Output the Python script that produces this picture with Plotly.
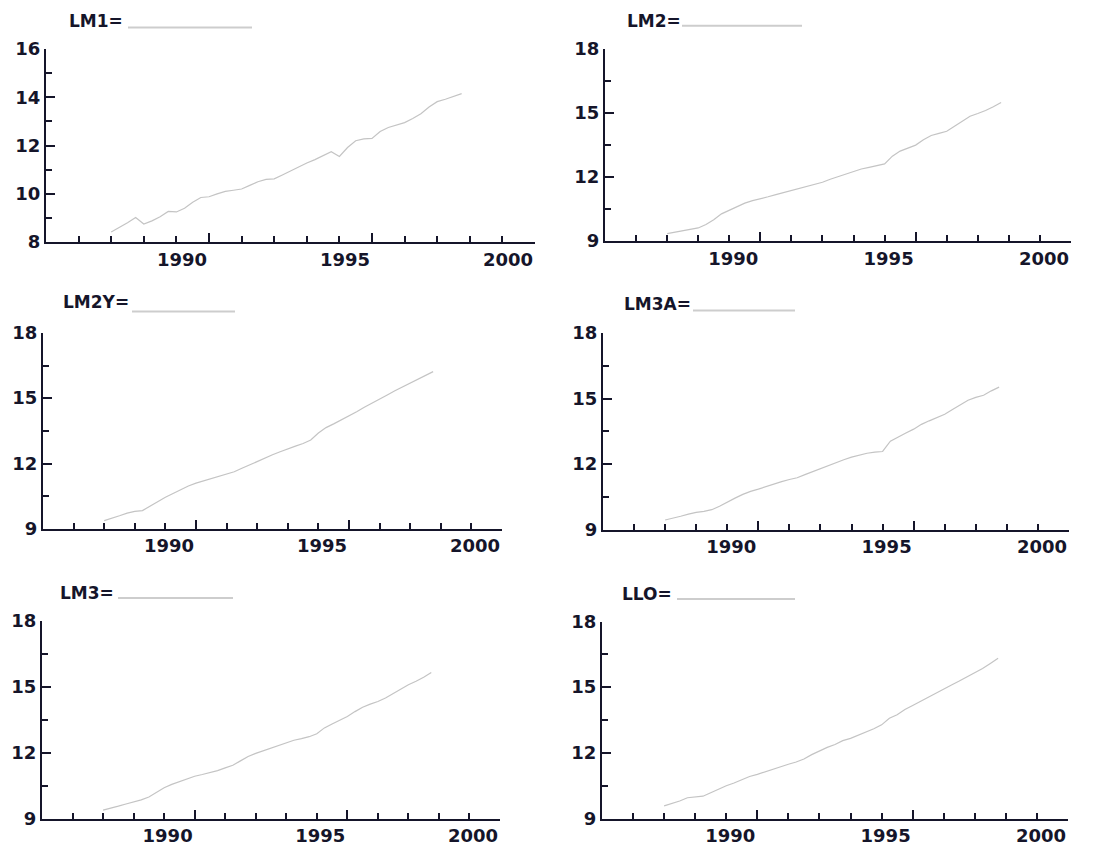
import plotly.graph_objects as go

# ---------------- data (quarterly) ----------------
periods = [1987.00, 1987.25, 1987.50, 1987.75, 1988.00, 1988.25, 1988.50, 1988.75,
           1989.00, 1989.25, 1989.50, 1989.75, 1990.00, 1990.25, 1990.50, 1990.75,
           1991.00, 1991.25, 1991.50, 1991.75, 1992.00, 1992.25, 1992.50, 1992.75,
           1993.00, 1993.25, 1993.50, 1993.75, 1994.00, 1994.25, 1994.50, 1994.75,
           1995.00, 1995.25, 1995.50, 1995.75, 1996.00, 1996.25, 1996.50, 1996.75,
           1997.00, 1997.25, 1997.50, 1997.75]

lm1 = [8.42, 8.60, 8.80, 9.02, 8.75, 8.88, 9.05, 9.27, 9.25, 9.40, 9.65, 9.85,
       9.88, 10.00, 10.10, 10.15, 10.20, 10.35, 10.50, 10.60, 10.62, 10.78, 10.95, 11.12,
       11.28, 11.42, 11.58, 11.75, 11.55, 11.92, 12.20, 12.28, 12.30, 12.58, 12.75, 12.85,
       12.95, 13.12, 13.32, 13.60, 13.82, 13.92, 14.02, 14.15]

lm2 = [9.35, 9.42, 9.50, 9.58, 9.62, 9.78, 10.00, 10.28, 10.45, 10.62, 10.78, 10.90,
       10.98, 11.08, 11.18, 11.28, 11.36, 11.48, 11.58, 11.68, 11.76, 11.90, 12.02, 12.14,
       12.26, 12.38, 12.46, 12.54, 12.62, 12.98, 13.22, 13.36, 13.50, 13.75, 13.95, 14.05,
       14.15, 14.38, 14.62, 14.85, 14.98, 15.12, 15.30, 15.50]

lm2y = [9.38, 9.48, 9.60, 9.72, 9.80, 9.84, 10.05, 10.25, 10.45, 10.62, 10.80, 10.97,
        11.10, 11.20, 11.30, 11.42, 11.52, 11.62, 11.78, 11.94, 12.10, 12.26, 12.40, 12.54,
        12.68, 12.80, 12.92, 13.08, 13.40, 13.65, 13.82, 14.00, 14.18, 14.38, 14.58, 14.78,
        14.98, 15.15, 15.34, 15.52, 15.70, 15.88, 16.05, 16.22]

lm3a = [9.45, 9.52, 9.62, 9.72, 9.80, 9.84, 9.92, 10.08, 10.28, 10.45, 10.62, 10.76,
        10.86, 10.98, 11.08, 11.20, 11.30, 11.38, 11.52, 11.66, 11.80, 11.92, 12.06, 12.20,
        12.32, 12.42, 12.50, 12.55, 12.58, 13.05, 13.25, 13.42, 13.60, 13.82, 13.98, 14.12,
        14.28, 14.50, 14.70, 14.92, 15.05, 15.15, 15.35, 15.52]

lm3 = [9.38, 9.46, 9.56, 9.66, 9.75, 9.85, 9.98, 10.20, 10.40, 10.55, 10.68, 10.80,
       10.92, 11.00, 11.08, 11.18, 11.30, 11.42, 11.62, 11.82, 11.96, 12.08, 12.20, 12.32,
       12.45, 12.56, 12.63, 12.72, 12.85, 13.12, 13.30, 13.46, 13.64, 13.86, 14.06, 14.20,
       14.32, 14.48, 14.68, 14.88, 15.08, 15.24, 15.42, 15.64]

llo = [9.58, 9.68, 9.80, 9.95, 10.00, 10.02, 10.18, 10.35, 10.50, 10.62, 10.78, 10.92,
       11.02, 11.14, 11.26, 11.38, 11.48, 11.58, 11.72, 11.92, 12.10, 12.25, 12.38, 12.56,
       12.66, 12.80, 12.94, 13.10, 13.28, 13.58, 13.74, 13.98, 14.16, 14.35, 14.55, 14.75,
       14.92, 15.10, 15.28, 15.46, 15.66, 15.85, 16.08, 16.32]

series_names = ["LM1", "LM2", "LM2Y", "LM3A", "LM3", "LLO"]
series_values = [lm1, lm2, lm2y, lm3a, lm3, llo]

x_ticks = [1990, 1995, 2000]
x_ticktext = ["1990", "1995", "2000"]
y_ticks_lm1 = [8, 10, 12, 14, 16]
y_ticks_other = [9, 12, 15, 18]

# ---------------- layout geometry (pixels of a 1104 x 849 page) ----------------
W, H = 1104, 849
# (x_left, x_right, y_top, y_bottom) of each plot area in page pixels
boxes = [
    (46, 535, 39, 237),
    (605, 1071, 39, 236),
    (43, 502, 330, 531),
    (603, 1069, 330, 532),
    (42, 500, 625, 828),
    (602, 1068, 626, 828),
]
# title text left / centre y and legend-sample line (x0, x1, y)
titles = [
    (67, 10, 128, 252, 17),
    (625, 10, 682, 802, 15),
    (61, 298, 132, 235, 308),
    (622, 300, 693, 795, 307),
    (58, 597, 118, 233, 602),
    (620, 598, 677, 795, 603),
]

AX = "#15152a"
LINE = "#c4c4c4"
FONT = "DejaVu Sans"

fig = go.Figure()
layout = dict(
    width=W, height=H,
    margin=dict(l=0, r=0, t=0, b=0),
    paper_bgcolor="white", plot_bgcolor="white",
    showlegend=False,
    annotations=[], shapes=[],
)

for i, (name, vals) in enumerate(zip(series_names, series_values)):
    n = i + 1
    xa = "x" if n == 1 else f"x{n}"
    ya = "y" if n == 1 else f"y{n}"
    fig.add_trace(go.Scatter(x=periods, y=vals, mode="lines", name=name,
                             line=dict(color=LINE, width=1.2),
                             xaxis=xa, yaxis=ya))
    x0, x1, yt, yb = boxes[i]
    if i == 0:
        yrange, ytv, ydt = [8, 16], y_ticks_lm1, 1
    else:
        yrange, ytv, ydt = [9, 18], y_ticks_other, 1.5
    tickfont = dict(family=FONT, size=18, color=AX, weight="bold")
    layout["xaxis" if n == 1 else f"xaxis{n}"] = dict(
        domain=[x0 / W, x1 / W], anchor=ya, range=[1985, 2000],
        tickmode="array", tickvals=x_ticks, ticktext=x_ticktext,
        ticks="inside", ticklen=9, tickwidth=2, tickcolor=AX,
        ticklabelposition="outside left",
        minor=dict(ticks="inside", tick0=1985, dtick=1, ticklen=6, tickwidth=2, tickcolor=AX),
        showline=True, linecolor=AX, linewidth=2,
        showgrid=False, zeroline=False, tickfont=tickfont,
        fixedrange=True,
    )
    layout["yaxis" if n == 1 else f"yaxis{n}"] = dict(
        domain=[1 - yb / H, 1 - yt / H], anchor=xa, range=yrange,
        tickmode="array", tickvals=ytv,
        ticks="inside", ticklen=9, tickwidth=2, tickcolor=AX,
        minor=dict(ticks="inside", tick0=yrange[0], dtick=ydt, ticklen=6, tickwidth=2, tickcolor=AX),
        showline=True, linecolor=AX, linewidth=2,
        showgrid=False, zeroline=False, tickfont=tickfont, ticklabelstandoff=0,
        fixedrange=True,
    )
    tx, ty, lx0, lx1, ly = titles[i]
    layout["annotations"].append(dict(
        text=f"{name}=", xref="paper", yref="paper",
        x=tx / W, y=1 - ty / H, xanchor="left", yanchor="middle",
        showarrow=False, font=dict(family=FONT, size=17, color=AX, weight="bold"),
    ))
    layout["shapes"].append(dict(
        type="line", xref="paper", yref="paper",
        x0=lx0 / W, x1=lx1 / W, y0=1 - ly / H, y1=1 - ly / H,
        line=dict(color="#cdcdcd", width=2),
    ))

fig.update_layout(**layout)
fig.write_html("out.html")
